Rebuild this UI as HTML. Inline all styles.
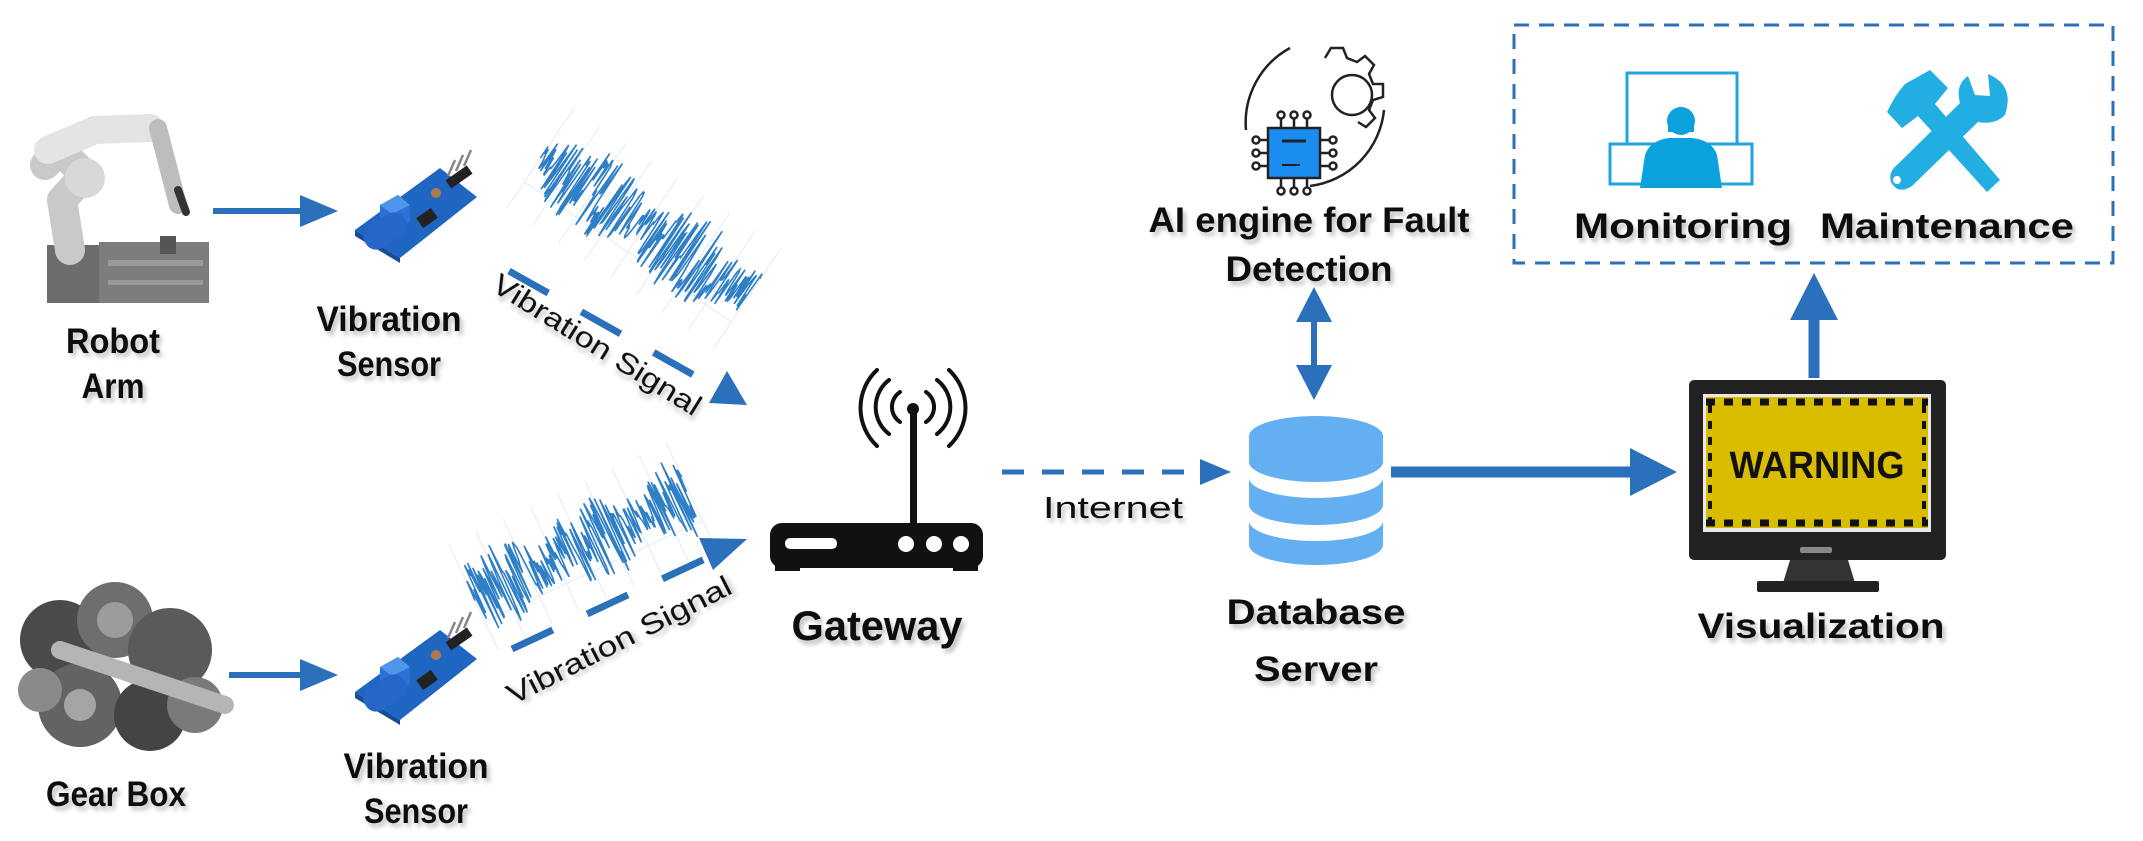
<!DOCTYPE html>
<html><head><meta charset="utf-8">
<style>
html,body{margin:0;padding:0;background:#fff;}
svg{display:block;}
text{font-family:"Liberation Sans",sans-serif;}
.b{font-weight:bold;fill:#111;font-size:35px;}
</style></head>
<body>
<svg id="s" width="2143" height="841" viewBox="0 0 2143 841" xmlns="http://www.w3.org/2000/svg">
<defs>
<filter id="sh" x="-10%" y="-30%" width="130%" height="180%"><feGaussianBlur in="SourceAlpha" stdDeviation="2.5"/><feOffset dx="3" dy="4"/><feComponentTransfer><feFuncA type="linear" slope="0.25"/></feComponentTransfer><feMerge><feMergeNode/><feMergeNode in="SourceGraphic"/></feMerge></filter>
<g id="sensor">
  <polygon points="355,230 440,168 477,197 400,258" fill="#1f66c2"/>
  <polygon points="355,230 400,258 400,263 355,236" fill="#174d96"/>
  <polygon points="380,205 398,195 410,205 410,222 392,230 380,222" fill="#2a72d8"/>
  <polygon points="380,205 398,195 410,205 392,214" fill="#4f95ea"/>
  <rect x="362" y="218" width="46" height="26" rx="12" transform="rotate(-32 385 231)" fill="#2566c8"/>
  <rect x="418" y="212" width="18" height="12" transform="rotate(-35 427 218)" fill="#222"/>
  <circle cx="436" cy="193" r="5" fill="#b07a50"/>
  <rect x="446" y="172" width="26" height="10" transform="rotate(-35 459 177)" fill="#222"/>
  <line x1="448" y1="176" x2="455" y2="160" stroke="#888" stroke-width="2.5"/>
  <line x1="456" y1="171" x2="463" y2="155" stroke="#888" stroke-width="2.5"/>
  <line x1="464" y1="166" x2="471" y2="150" stroke="#888" stroke-width="2.5"/>
</g>
</defs>

<!-- Robot arm -->
<g>
  <rect x="99" y="242" width="110" height="61" fill="#7d7d7d"/>
  <rect x="108" y="260" width="95" height="6" fill="#9a9a9a"/>
  <rect x="108" y="280" width="95" height="5" fill="#9a9a9a"/>
  <rect x="160" y="236" width="16" height="18" fill="#555"/>
  <rect x="47" y="245" width="52" height="58" fill="#6d6d6d"/>
  <path d="M70 250 L62 200 L85 175 L60 150 L45 165" fill="none" stroke="#c9c9c9" stroke-width="30" stroke-linecap="round" stroke-linejoin="round"/>
  <circle cx="85" cy="178" r="20" fill="#d8d8d8"/>
  <path d="M48 150 L95 130 L150 128" fill="none" stroke="#e4e4e4" stroke-width="28" stroke-linecap="round"/>
  <path d="M158 128 L178 205" stroke="#bdbdbd" stroke-width="18" stroke-linecap="round"/>
  <path d="M178 190 L186 212" stroke="#333" stroke-width="8" stroke-linecap="round"/>
</g>
<text class="b" x="113" y="353" text-anchor="middle" textLength="94" lengthAdjust="spacingAndGlyphs" filter="url(#sh)">Robot</text>
<text class="b" x="113" y="398" text-anchor="middle" textLength="63" lengthAdjust="spacingAndGlyphs" filter="url(#sh)">Arm</text>

<!-- Gear box -->
<g>
  <circle cx="60" cy="640" r="40" fill="#4a4a4a"/>
  <circle cx="115" cy="620" r="38" fill="#6e6e6e"/>
  <circle cx="170" cy="650" r="42" fill="#5a5a5a"/>
  <circle cx="80" cy="705" r="42" fill="#636363"/>
  <circle cx="150" cy="715" r="36" fill="#444"/>
  <circle cx="195" cy="705" r="28" fill="#7a7a7a"/>
  <circle cx="40" cy="690" r="22" fill="#8a8a8a"/>
  <path d="M60 650 L225 705" stroke="#b5b5b5" stroke-width="18" stroke-linecap="round"/>
  <circle cx="115" cy="620" r="18" fill="#9c9c9c"/>
  <circle cx="80" cy="705" r="16" fill="#a5a5a5"/>
</g>
<text class="b" x="116" y="806" text-anchor="middle" textLength="140" lengthAdjust="spacingAndGlyphs" filter="url(#sh)">Gear Box</text>

<!-- solid arrows to sensors -->
<line x1="213" y1="211" x2="302" y2="211" stroke="#2a70bb" stroke-width="6"/>
<polygon points="300,195 338,211 300,227" fill="#2a70bb"/>
<line x1="229" y1="675" x2="302" y2="675" stroke="#2a70bb" stroke-width="6"/>
<polygon points="300,659 338,675 300,691" fill="#2a70bb"/>

<!-- sensors -->
<use href="#sensor"/>
<use href="#sensor" transform="translate(0,462)"/>
<text class="b" x="389" y="331" text-anchor="middle" textLength="145" lengthAdjust="spacingAndGlyphs" filter="url(#sh)">Vibration</text>
<text class="b" x="389" y="376" text-anchor="middle" textLength="104" lengthAdjust="spacingAndGlyphs" filter="url(#sh)">Sensor</text>
<text class="b" x="416" y="778" text-anchor="middle" textLength="145" lengthAdjust="spacingAndGlyphs" filter="url(#sh)">Vibration</text>
<text class="b" x="416" y="823" text-anchor="middle" textLength="104" lengthAdjust="spacingAndGlyphs" filter="url(#sh)">Sensor</text>

<!-- waves -->
<g id="w1" transform="translate(644,228) rotate(34)"></g>
<g id="w2" transform="translate(582,546) rotate(-25)"></g>

<!-- dashed arrows -->
<line x1="509" y1="271" x2="722" y2="391" stroke="#2a70bb" stroke-width="7" stroke-dasharray="45,38"/>
<polygon points="747,405 709,403 727,371" fill="#2a70bb"/>
<text x="595" y="354" font-size="29" fill="#111" text-anchor="middle" transform="rotate(32 595 348)" textLength="240" lengthAdjust="spacingAndGlyphs" filter="url(#sh)">Vibration Signal</text>
<line x1="512" y1="649" x2="722" y2="551" stroke="#2a70bb" stroke-width="7" stroke-dasharray="45,38"/>
<polygon points="747,539 713,570 699,538" fill="#2a70bb"/>
<text x="619" y="650" font-size="29" fill="#111" text-anchor="middle" transform="rotate(-27 619 640)" textLength="248" lengthAdjust="spacingAndGlyphs" filter="url(#sh)">Vibration Signal</text>

<!-- gateway -->
<g fill="none" stroke="#111" stroke-width="4" stroke-linecap="round">
  <path d="M900 392 A18 18 0 0 0 900 422"/><path d="M926 392 A18 18 0 0 1 926 422"/>
  <path d="M889 380 A34 34 0 0 0 889 434"/><path d="M937 380 A34 34 0 0 1 937 434"/>
  <path d="M877 370 A52 52 0 0 0 877 446"/><path d="M949 370 A52 52 0 0 1 949 446"/>
</g>
<circle cx="913" cy="409" r="6" fill="#111"/>
<rect x="910" y="409" width="7" height="116" fill="#111"/>
<rect x="770" y="523" width="213" height="45" rx="12" fill="#111"/>
<rect x="775" y="565" width="25" height="6" fill="#111"/><rect x="953" y="565" width="25" height="6" fill="#111"/>
<rect x="785" y="538" width="52" height="11" rx="5" fill="#fff"/>
<circle cx="906" cy="544" r="8" fill="#fff"/><circle cx="934" cy="544" r="8" fill="#fff"/><circle cx="961" cy="544" r="8" fill="#fff"/>
<text class="b" x="877" y="640" text-anchor="middle" textLength="171" lengthAdjust="spacingAndGlyphs" style="font-size:42px" filter="url(#sh)">Gateway</text>

<!-- internet -->
<line x1="1002" y1="472" x2="1200" y2="472" stroke="#2a70bb" stroke-width="5" stroke-dasharray="22,18"/>
<polygon points="1200,459 1231,472 1200,485" fill="#2a70bb"/>
<text x="1043" y="518" font-size="31" fill="#111" textLength="140" lengthAdjust="spacingAndGlyphs" filter="url(#sh)">Internet</text>

<!-- database -->
<g fill="#64aef2">
  <path d="M1249 436 A67 20 0 0 1 1383 436 L1383 462 A67 20 0 0 1 1249 462 Z"/>
  <path d="M1249 478 A67 20 0 0 0 1383 478 L1383 505 A67 20 0 0 1 1249 505 Z"/>
  <path d="M1249 521 A67 20 0 0 0 1383 521 L1383 545 A67 20 0 0 1 1249 545 Z"/>
</g>
<text class="b" x="1316" y="624" text-anchor="middle" textLength="179" lengthAdjust="spacingAndGlyphs" filter="url(#sh)">Database</text>
<text class="b" x="1316" y="681" text-anchor="middle" textLength="124" lengthAdjust="spacingAndGlyphs" filter="url(#sh)">Server</text>

<!-- AI icon -->
<g fill="none" stroke="#222" stroke-width="2.5">
  <path d="M1290 48 A85 85 0 0 0 1246 130"/>
  <path d="M1384 110 A85 85 0 0 1 1310 186"/>
  <path d="M1325 58 l6 -10 h12 l4 10 l10 4 l8 -6 l9 9 l-5 9 l4 10 h10 v13 l-10 3 l-4 10 l6 8 l-9 9 l-8 -5"/>
  <circle cx="1352" cy="95" r="20"/>
  <path d="M1271 140 h-12 M1271 153 h-12 M1271 166 h-12 M1318 140 h12 M1318 153 h12 M1318 166 h12 M1281 130 v-12 M1294 130 v-12 M1307 130 v-12 M1281 176 v12 M1294 176 v12 M1307 176 v12"/>
  <circle cx="1256" cy="140" r="3.5"/><circle cx="1256" cy="153" r="3.5"/><circle cx="1256" cy="166" r="3.5"/>
  <circle cx="1333" cy="140" r="3.5"/><circle cx="1333" cy="153" r="3.5"/><circle cx="1333" cy="166" r="3.5"/>
  <circle cx="1281" cy="115" r="3.5"/><circle cx="1294" cy="115" r="3.5"/><circle cx="1307" cy="115" r="3.5"/>
  <circle cx="1281" cy="191" r="3.5"/><circle cx="1294" cy="191" r="3.5"/><circle cx="1307" cy="191" r="3.5"/>
</g>
<rect x="1268" y="128" width="52" height="50" fill="#1b8cf0" stroke="#222" stroke-width="2.5"/>
<line x1="1282" y1="141" x2="1306" y2="141" stroke="#222" stroke-width="3"/>
<line x1="1282" y1="165" x2="1300" y2="165" stroke="#222" stroke-width="2"/>
<text class="b" x="1309" y="232" text-anchor="middle" textLength="321" lengthAdjust="spacingAndGlyphs" filter="url(#sh)">AI engine for Fault</text>
<text class="b" x="1309" y="281" text-anchor="middle" textLength="167" lengthAdjust="spacingAndGlyphs" filter="url(#sh)">Detection</text>

<!-- double arrow -->
<line x1="1314" y1="315" x2="1314" y2="372" stroke="#2a70bb" stroke-width="6"/>
<polygon points="1296,322 1314,287 1332,322" fill="#2a70bb"/>
<polygon points="1296,365 1314,400 1332,365" fill="#2a70bb"/>

<!-- db -> monitor -->
<line x1="1391" y1="472" x2="1632" y2="472" stroke="#2a70bb" stroke-width="11"/>
<polygon points="1630,448 1677,472 1630,496" fill="#2a70bb"/>

<!-- monitor -->
<rect x="1689" y="380" width="257" height="180" rx="5" fill="#222"/>
<rect x="1703" y="394" width="228" height="138" fill="#e8e8e8"/>
<rect x="1706" y="397" width="222" height="131" fill="#dbbd00"/>
<g stroke="#111" stroke-width="7" stroke-dasharray="9,9">
  <line x1="1706" y1="402" x2="1928" y2="402"/>
  <line x1="1706" y1="523" x2="1928" y2="523"/>
</g>
<g stroke="#111" stroke-width="4" stroke-dasharray="8,8">
  <line x1="1710" y1="405" x2="1710" y2="520"/>
  <line x1="1924" y1="405" x2="1924" y2="520"/>
</g>
<text x="1817" y="478" font-size="38" font-weight="bold" fill="#111" text-anchor="middle" textLength="175" lengthAdjust="spacingAndGlyphs">WARNING</text>
<rect x="1800" y="547" width="32" height="6" rx="2" fill="#888"/>
<polygon points="1790,560 1848,560 1855,583 1783,583" fill="#333"/>
<rect x="1757" y="581" width="122" height="11" rx="2" fill="#222"/>
<text class="b" x="1821" y="638" text-anchor="middle" textLength="247" lengthAdjust="spacingAndGlyphs" filter="url(#sh)">Visualization</text>

<!-- up arrow -->
<line x1="1814" y1="315" x2="1814" y2="378" stroke="#2a70bb" stroke-width="11"/>
<polygon points="1790,320 1814,273 1838,320" fill="#2a70bb"/>

<!-- dashed box -->
<rect x="1514" y="25" width="599" height="238" fill="none" stroke="#2a70bb" stroke-width="3" stroke-dasharray="15,10"/>

<!-- monitoring icon -->
<g stroke="#1fa5dc" stroke-width="3" fill="#fff">
  <rect x="1627" y="73" width="110" height="79"/>
  <rect x="1610" y="144" width="52" height="40"/>
  <rect x="1700" y="144" width="52" height="40"/>
</g>
<circle cx="1681" cy="121" r="14" fill="#0aa1dc"/>
<path d="M1640 188 L1645 155 Q1650 140 1670 138 L1692 138 Q1712 140 1717 155 L1722 188 Z" fill="#0aa1dc"/>
<path d="M1668 118 Q1681 100 1694 118 L1694 132 L1668 132 Z" fill="#0aa1dc"/>

<!-- maintenance icon -->
<g fill="#22aee3">
  <path d="M1905 84 L1930 70 L1948 88 L1935 104 L2000 180 L1987 192 L1918 116 L1902 128 L1887 112 Q1895 95 1905 84 Z"/>
  <path d="M1988 74 Q2015 85 2005 115 Q1995 125 1978 122 L1912 186 Q1898 195 1891 182 Q1888 172 1897 165 L1960 103 Q1955 85 1968 76 L1975 95 L1990 96 Z"/>
</g>
<circle cx="1897" cy="180" r="4" fill="#fff"/>
<text class="b" x="1683" y="238" text-anchor="middle" textLength="218" lengthAdjust="spacingAndGlyphs" filter="url(#sh)">Monitoring</text>
<text class="b" x="1947" y="238" text-anchor="middle" textLength="254" lengthAdjust="spacingAndGlyphs" filter="url(#sh)">Maintenance</text>
</svg>
<script>
(function(){
var NS="http://www.w3.org/2000/svg";
function wave(id,len,amp,seed){
  var g=document.getElementById(id);
  var s=seed;function r(){s=(s*9301+49297)%233280;return s/233280;}
  var grid="";
  for(var i=0;i<=8;i++){var x=-len/2+i*len/8;grid+="M"+x+" "+(-amp-12)+"V"+(amp+12);}
  grid+="M"+(-len/2)+" "+(amp*0.6)+"H"+(len/2);
  var gp=document.createElementNS(NS,"path");gp.setAttribute("d",grid);gp.setAttribute("stroke","#e6eef7");gp.setAttribute("stroke-width","1.2");gp.setAttribute("fill","none");g.appendChild(gp);
  var d="M"+(-len/2)+" 0";
  for(var x=-len/2;x<=len/2;x+=0.9){
    var t=(x+len/2)/len;
    var env=0.45+0.55*Math.abs(Math.sin(t*7+seed))*(0.7+0.3*r());
    var y=(r()*2-1)*amp*env;
    d+="L"+x.toFixed(1)+" "+y.toFixed(1);
  }
  var p=document.createElementNS(NS,"path");p.setAttribute("d",d);p.setAttribute("stroke","#2f7fc6");p.setAttribute("stroke-width","1.6");p.setAttribute("fill","none");g.appendChild(p);
}
wave("w1",250,48,3);
wave("w2",240,46,7);
})();
</script>
</body></html>
